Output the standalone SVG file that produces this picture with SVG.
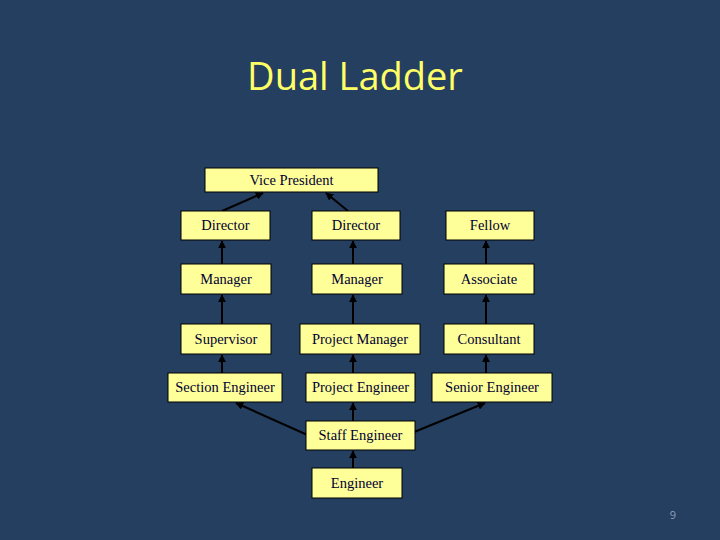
<svg xmlns="http://www.w3.org/2000/svg" width="720" height="540" viewBox="0 0 720 540">
<style>
.box{fill:#FFFF99;stroke:#000;stroke-width:1}
.lbl{font-family:"Liberation Serif",serif;font-size:14.5px;fill:#000033;text-anchor:middle}
.con{stroke:#000;stroke-width:2;fill:none;marker-end:url(#ah)}
</style>
<defs>
<marker id="ah" viewBox="0 0 10 10" refX="9" refY="5" markerWidth="4" markerHeight="4" orient="auto" markerUnits="strokeWidth">
<path d="M0,0 L10,5 L0,10 z" fill="#000"/>
</marker>
</defs>
<rect width="720" height="540" fill="#253F60"/>
<text x="355" y="90" font-family="'Open Sans','Liberation Sans',sans-serif" font-size="38" fill="#FFFF66" text-anchor="middle">Dual Ladder</text>
<g id="connectors">
<line class="con" x1="222" y1="211" x2="263" y2="193"/>
<line class="con" x1="348" y1="211" x2="326" y2="193"/>
<line class="con" x1="222" y1="264" x2="222" y2="241"/>
<line class="con" x1="353" y1="264" x2="353" y2="241"/>
<line class="con" x1="486" y1="264" x2="486" y2="241"/>
<line class="con" x1="222" y1="324" x2="222" y2="295"/>
<line class="con" x1="353" y1="324" x2="353" y2="295"/>
<line class="con" x1="486" y1="324" x2="486" y2="295"/>
<line class="con" x1="222" y1="373" x2="222" y2="355"/>
<line class="con" x1="353" y1="373" x2="353" y2="355"/>
<line class="con" x1="486" y1="373" x2="486" y2="355"/>
<line class="con" x1="312" y1="437" x2="236" y2="403"/>
<line class="con" x1="402" y1="437" x2="485" y2="403"/>
<line class="con" x1="353" y1="421" x2="353" y2="403"/>
<line class="con" x1="353" y1="468" x2="353" y2="451"/>
</g>
<g id="vp"><rect class="box" x="205" y="168" width="173" height="24"/><text class="lbl" x="291.5" y="185">Vice President</text></g>
<g id="dir1"><rect class="box" x="181" y="211" width="89" height="29"/><text class="lbl" x="225.5" y="230">Director</text></g>
<g id="dir2"><rect class="box" x="312" y="211" width="88" height="29"/><text class="lbl" x="356" y="230">Director</text></g>
<g id="fellow"><rect class="box" x="446" y="211" width="88" height="29"/><text class="lbl" x="490" y="230">Fellow</text></g>
<g id="mgr1"><rect class="box" x="181" y="264" width="90" height="30"/><text class="lbl" x="226" y="284">Manager</text></g>
<g id="mgr2"><rect class="box" x="312" y="264" width="90" height="30"/><text class="lbl" x="357" y="284">Manager</text></g>
<g id="assoc"><rect class="box" x="444" y="264" width="90" height="30"/><text class="lbl" x="489" y="284">Associate</text></g>
<g id="sup"><rect class="box" x="181" y="324" width="90" height="30"/><text class="lbl" x="226" y="344">Supervisor</text></g>
<g id="pm"><rect class="box" x="300" y="324" width="120" height="30"/><text class="lbl" x="360" y="344">Project Manager</text></g>
<g id="cons"><rect class="box" x="444" y="324" width="90" height="30"/><text class="lbl" x="489" y="344">Consultant</text></g>
<g id="se"><rect class="box" x="168" y="373" width="114" height="29"/><text class="lbl" x="225" y="392">Section Engineer</text></g>
<g id="pe"><rect class="box" x="306" y="373" width="109" height="29"/><text class="lbl" x="360.5" y="392">Project Engineer</text></g>
<g id="sre"><rect class="box" x="432" y="373" width="120" height="29"/><text class="lbl" x="492" y="392">Senior Engineer</text></g>
<g id="staff"><rect class="box" x="306" y="421" width="109" height="29"/><text class="lbl" x="360.5" y="440">Staff Engineer</text></g>
<g id="eng"><rect class="box" x="312" y="468" width="90" height="30"/><text class="lbl" x="357" y="488">Engineer</text></g>
<text x="673" y="519" font-family="'Open Sans','Liberation Sans',sans-serif" font-size="11" fill="#8EA0BD" text-anchor="middle">9</text>
</svg>
